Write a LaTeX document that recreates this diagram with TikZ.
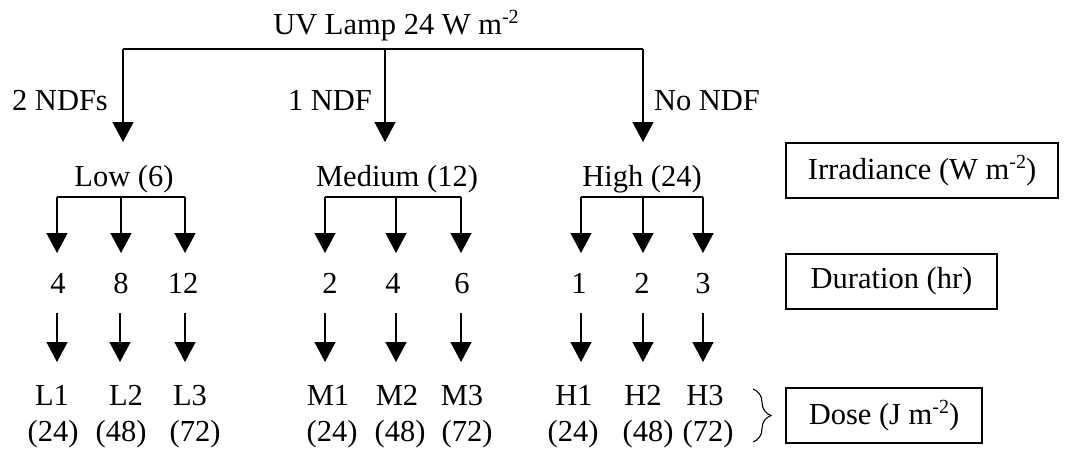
\documentclass[tikz,border=0pt]{standalone}
\usepackage{fontspec}
\setmainfont{Liberation Serif}
\usetikzlibrary{arrows.meta,decorations.pathreplacing}
\newcommand{\sq}[1]{\raisebox{0.36em}{\fontsize{20}{20}\selectfont #1}}
\begin{document}
\begin{tikzpicture}[x=1pt,y=-1pt,
  txt/.style={font=\fontsize{30.5}{36}\selectfont, inner sep=0pt, anchor=base},
  ln/.style={line width=1.4pt},
  arr/.style={line width=1.4pt, -{Triangle[length=20pt,width=21pt]}},
  box/.style={draw, line width=1.4pt, font=\fontsize{30.5}{36}\selectfont, inner sep=0pt, minimum height=55pt}]
\useasboundingbox (0,0) rectangle (1078,451);
% top
\node[txt] (uv) at (396,34) {UV Lamp 24 W m\sq{-2}};
\coordinate (tL) at (123,49);
\coordinate (tM) at (385,49);
\coordinate (tH) at (643,49);
\coordinate (eL) at (123,142);
\coordinate (eM) at (385,142);
\coordinate (eH) at (643,142);
\draw[ln] (tL) -- (tH);
\draw[arr] (tL) -- (eL);
\draw[arr] (tM) -- (eM);
\draw[arr] (tH) -- (eH);
\node[txt] (ndf2) at (60,110) {2 NDFs};
\node[txt] (ndf1) at (330,110) {1 NDF};
\node[txt] (ndf0) at (707,110) {No NDF};
% irradiance level
\node[txt] (low) at (124,186) {Low (6)};
\node[txt] (med) at (397,186) {Medium (12)};
\node[txt] (high) at (642,186) {High (24)};
% sub-bars
\foreach \n/\a/\b/\c in {L/57/121/185, M/325/396/461, H/581/643/703}{
  \coordinate (\n a) at (\a,197);
  \coordinate (\n b) at (\b,197);
  \coordinate (\n c) at (\c,197);
  \draw[ln] (\n a) -- (\n c);
  \draw[arr] (\n a) -- ++(0,56);
  \draw[arr] (\n b) -- ++(0,56);
  \draw[arr] (\n c) -- ++(0,56);
}
% durations
\foreach \nm/\x/\t in {d1/58/4, d2/121/8, d3/183/12, d4/330/2, d5/393/4, d6/462/6, d7/579/1, d8/642/2, d9/703/3}{
  \node[txt] (\nm) at (\x,293) {\t};
}
% second arrows
\foreach \nm/\x in {s1/57, s2/120, s3/185, s4/325, s5/396, s6/461, s7/581, s8/643, s9/703}{
  \coordinate (\nm) at (\x,313);
  \draw[arr] (\nm) -- ++(0,49);
}
% doses
\foreach \nm/\x/\t in {L1/52/L1, L2/126/L2, L3/190/L3, M1/328/M1, M2/397/M2, M3/462/M3, H1/574/H1, H2/643/H2, H3/705/H3}{
  \node[txt] (\nm) at (\x,405) {\t};
}
\foreach \nm/\x/\t in {v1/53/24, v2/121/48, v3/195/72, v4/332/24, v5/400/48, v6/467/72, v7/573/24, v8/648/48, v9/708/72}{
  \node[txt] (\nm) at (\x,441) {(\t)};
}
% brace
\coordinate (br1) at (753,389);
\coordinate (br2) at (753,442);
\draw[line width=1.1pt, decorate, decoration={brace, amplitude=18pt}] (br1) -- (br2);
% boxes
\node[box, minimum width=272pt] (irr) at (922,170.5) {Irradiance (W m\sq{-2})};
\node[box, minimum width=211pt] (dur) at (891.5,281.5) {Duration (hr)};
\node[box, minimum width=196pt] (dose) at (884,415.5) {Dose (J m\sq{-2})};
\end{tikzpicture}
\end{document}
